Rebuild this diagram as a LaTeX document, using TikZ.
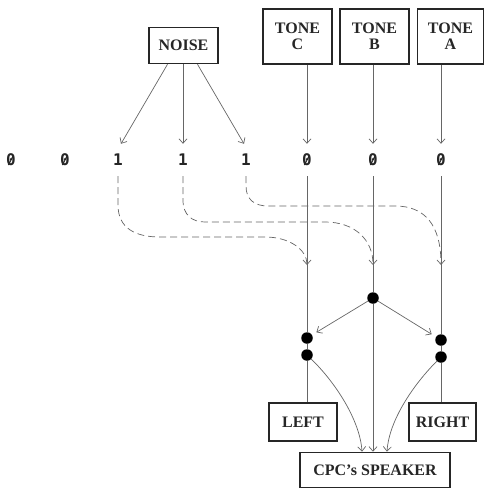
\documentclass[tikz,border=0pt]{standalone}
\usepackage{fontspec}
\setmainfont{Liberation Serif}
\newfontfamily\digitfont{DejaVu Sans Mono}
\usetikzlibrary{arrows.meta,calc}
\begin{document}
\begin{tikzpicture}[x=1pt,y=-1pt,
  box/.style={draw=black!85, line width=1.6pt, inner sep=0pt, align=center,
    font=\fontsize{16}{16}\selectfont\bfseries, text=black!85},
  digit/.style={inner sep=0pt, minimum height=32pt,
    font=\fontsize{16}{16}\selectfont\digitfont\bfseries, text=black!85},
  slash/.style={draw=black!85, line width=1.1pt},
  ln/.style={draw=black!60, line width=0.7pt},
  arr/.style={ln, -{Straight Barb[length=4.5pt,width=8pt]}},
  dsh/.style={arr, dash pattern=on 7pt off 4pt},
  dot/.style={circle, fill=black, inner sep=0pt, minimum size=11.5pt}]
\useasboundingbox (0,0) rectangle (485,490);
% boxes
\node[box, minimum width=69pt, minimum height=36pt] (noise) at (183.5,45.5) {NOISE};
\node[box, minimum width=69pt, minimum height=55pt] (toneC) at (297.5,36.5) {TONE\\C};
\node[box, minimum width=69pt, minimum height=55pt] (toneB) at (374.5,36.5) {TONE\\B};
\node[box, minimum width=66pt, minimum height=55pt] (toneA) at (450.5,36.5) {TONE\\A};
\node[box, minimum width=68pt, minimum height=38pt] (left) at (303,422) {LEFT};
\node[box, minimum width=67pt, minimum height=38pt] (right) at (442.5,422) {RIGHT};
\node[box, minimum width=150pt, minimum height=35pt] (spk) at (375,470) {CPC's SPEAKER};
% digits
\foreach \n/\x/\t in {1/11/0,2/65/0,3/118/1,4/183/1,5/246/1,6/307/0,7/373/0,8/441/0}
  \node[digit] (d\n) at (\x,160) {\t};
% slashed zeros
\foreach \n in {1,2,6,7,8}
  \draw[slash] ($(d\n.center)+(-2.6,5)$) -- ($(d\n.center)+(2.6,-5)$);
% merge points
\coordinate (mC) at (307,265);
\coordinate (mB) at (373,265);
\coordinate (mA) at (441,265);
% dots
\node[dot] (dm) at (373,298) {};
\node[dot] (dl1) at (307,338) {};
\node[dot] (dl2) at (307,355) {};
\node[dot] (dr1) at (441,340) {};
\node[dot] (dr2) at (441,357) {};
% noise arrows
\draw[arr] ($(noise.south)+(-16,0)$) -- ($(d3.north)+(3,0)$);
\draw[arr] ($(noise.south)+(-0.5,0)$) -- (d4.north);
\draw[arr] ($(noise.south)+(14,0)$) -- ($(d5.north)+(-2,0)$);
% tone arrows
\draw[arr] (d6 |- toneC.south) -- (d6.north);
\draw[arr] (d7 |- toneB.south) -- (d7.north);
\draw[arr] (d8 |- toneA.south) -- (d8.north);
% dashed routes
\draw[dsh] (d3.south) -- (118,205) .. controls (118,228) and (135,237) .. (160,237)
  -- (265,237) .. controls (290,237) and (307,250) .. (mC);
\draw[dsh] (d4.south) -- (183,200) .. controls (183,215) and (192,222) .. (205,222)
  -- (325,222) .. controls (355,222) and (373,240) .. (mB);
\draw[dsh] (d5.south) -- (246,186) .. controls (246,200) and (255,206) .. (268,206)
  -- (395,206) .. controls (425,206) and (441,225) .. (mA);
% solid channels
\draw[ln] (d6.south) -- (dl1) -- (dl2) -- (d6.south |- left.north);
\draw[ln] (d7.south) -- (dm);
\draw[arr] (dm) -- (d7 |- spk.north);
\draw[ln] (d8.south) -- (dr1) -- (dr2) -- (d8.south |- right.north);
\draw[arr, shorten >=5pt] (dm) -- (dl1);
\draw[arr, shorten >=5pt] (dm) -- (dr1);
\draw[arr] (dl2) .. controls (335,382) and (360,420) .. ($(spk.north)+(-13,0)$);
\draw[arr] (dr2) .. controls (414,384) and (389,420) .. ($(spk.north)+(12,0)$);
\end{tikzpicture}
\end{document}
